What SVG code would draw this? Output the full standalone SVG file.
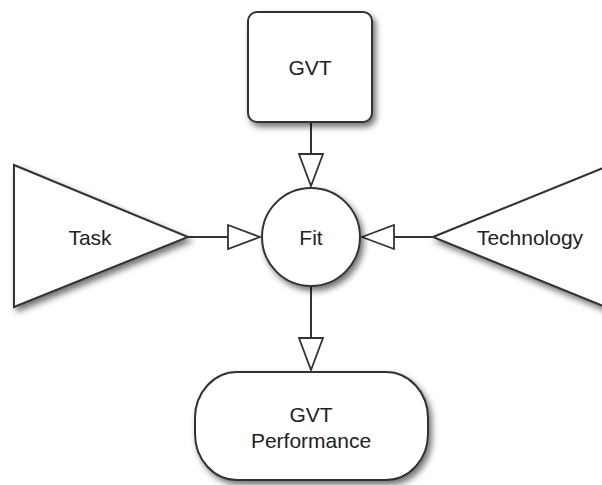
<svg xmlns="http://www.w3.org/2000/svg" width="602" height="485" viewBox="0 0 602 485">
  <defs>
    <filter id="sh" x="-20%" y="-20%" width="150%" height="150%">
      <feDropShadow dx="3" dy="4" stdDeviation="3" flood-color="#000" flood-opacity="0.55"/>
    </filter>
    <marker id="arr" markerWidth="34" markerHeight="26" refX="33" refY="13" orient="auto" markerUnits="userSpaceOnUse">
      <path d="M1,1 L33,13 L1,25 Z" fill="#fff" stroke="#333" stroke-width="1.8" stroke-linejoin="miter"/>
    </marker>
  </defs>
  <style>
    .shape { fill: #fff; stroke: #333; stroke-width: 2; filter: url(#sh); }
    .lbl { font-family: "Liberation Sans", Arial, sans-serif; font-size: 21px; fill: #222; text-anchor: middle; }
    .conn { stroke: #333; stroke-width: 2; fill: none; marker-end: url(#arr); }
  </style>
  <rect width="602" height="485" fill="#fff"/>
  <g id="connectors">
    <line class="conn" x1="311" y1="122" x2="311" y2="186"/>
    <line class="conn" x1="188" y1="237" x2="260" y2="237"/>
    <line class="conn" x1="433" y1="237" x2="362" y2="237"/>
    <line class="conn" x1="311" y1="286" x2="311" y2="370"/>
  </g>
  <g id="gvt">
    <rect class="shape" x="248" y="12" width="124" height="110" rx="9"/>
    <text class="lbl" x="310" y="75">GVT</text>
  </g>
  <g id="task">
    <polygon class="shape" points="14,165 188,237 14,307"/>
    <text class="lbl" x="90" y="245">Task</text>
  </g>
  <g id="technology">
    <polygon class="shape" points="433,237 608,166 608,308"/>
    <text class="lbl" x="530" y="245">Technology</text>
  </g>
  <g id="fit">
    <circle class="shape" cx="311" cy="237" r="49"/>
    <text class="lbl" x="311" y="245">Fit</text>
  </g>
  <g id="performance">
    <rect class="shape" x="195" y="372" width="233" height="108" rx="42" ry="46"/>
    <text class="lbl" x="311" y="422">GVT</text>
    <text class="lbl" x="311" y="448">Performance</text>
  </g>
</svg>
